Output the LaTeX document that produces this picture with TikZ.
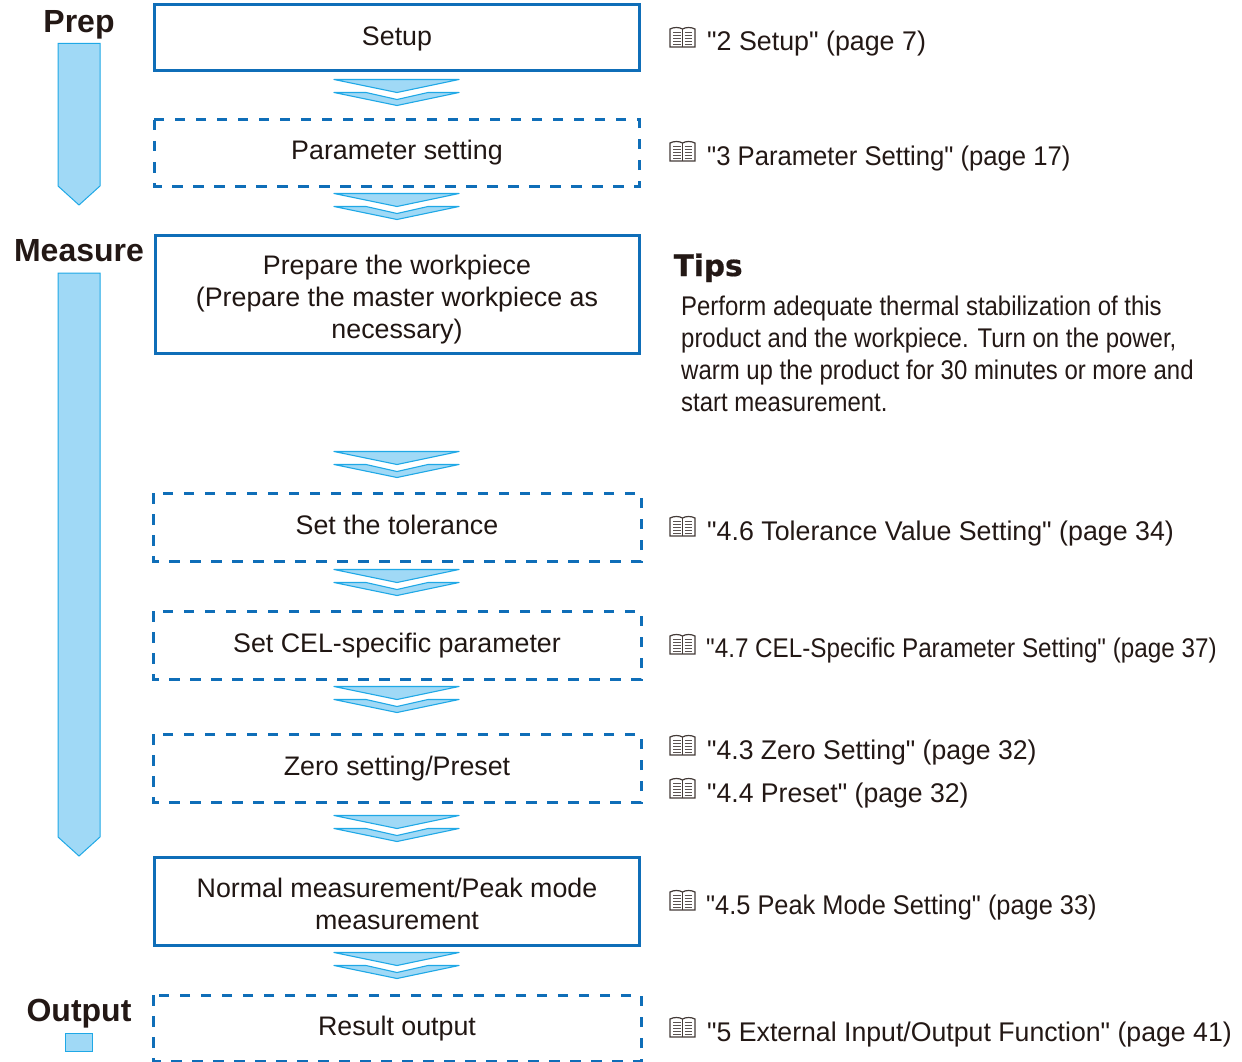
\documentclass[tikz,border=0pt]{standalone}
\usepackage{fontspec}
\setmainfont{Liberation Sans}[Ligatures=TeXOff]
\newfontfamily\tipsfont{DejaVu Sans}[FakeBold=0.6]
\definecolor{boxblue}{HTML}{0F6EB8}
\definecolor{chevfill}{HTML}{A0D9F6}
\definecolor{chevline}{HTML}{1FA8E6}
\definecolor{ink}{HTML}{231815}
\newcommand{\chev}[1]{%
  \begin{scope}[shift={(397,#1+0.5)}]
    \draw[chevstyle] (-63,0) -- (62,0) -- (0,13) -- cycle;
    \draw[chevstyle] (-63,13) -- (-31,13) -- (0,20) -- (31,13) -- (62,13) -- (0,26) -- cycle;
  \end{scope}}
\newcommand{\bookicon}[2]{%
  \begin{scope}[shift={(#1,#2)}]
    \fill[white,draw=ink!85,line width=1.2pt] (0,2) .. controls (4,0) and (9,0) .. (12.5,2) .. controls (16,0) and (21,0) .. (25,2) -- (25,20) -- (0,20) -- cycle;
    \draw[ink!85,line width=1pt] (12.5,2) -- (12.5,20);
    \foreach \yy in {5,8,11,14,17} {
      \draw[ink!75,line width=0.8pt] (3,\yy) -- (10.5,\yy);
      \draw[ink!75,line width=0.8pt] (14.5,\yy) -- (22,\yy);
    }
  \end{scope}}
\newcommand{\sx}[2]{\scalebox{#1}[1]{#2}}
\tikzset{
  x=1pt,y=-1pt,
  chevstyle/.style={draw=chevline,fill=chevfill,line width=1.1pt,line join=round},
  phasebar/.style={draw=chevline,fill=chevfill,line width=1pt},
  solidbox/.style={draw=boxblue,line width=3pt,fill=white},
  dashbox/.style={draw=boxblue,line width=3pt,dash pattern=on 10.5pt off 10.5pt},
  steptext/.style={font=\fontsize{26.8}{32}\selectfont,align=center,text=ink!90!black,inner sep=0pt},
  phase/.style={font=\fontsize{32}{36}\selectfont\bfseries,text=ink,anchor=base,inner sep=0pt},
  ref/.style={font=\fontsize{27}{32}\selectfont,text=ink,anchor=base west,inner sep=0pt},
}
\begin{document}
\begin{tikzpicture}
\useasboundingbox (0,0) rectangle (1242,1062);
% boxes
\draw[solidbox] (154,5) rectangle (639,71);
\draw[dashbox] (154,120) rectangle (639,186);
\draw[solidbox] (155,235) rectangle (639,353);
\draw[dashbox] (153,493) rectangle (641,561);
\draw[dashbox] (153,611) rectangle (641,679);
\draw[dashbox] (153,734) rectangle (641,802);
\draw[solidbox] (154,857) rectangle (639,945);
\draw[dashbox] (153,995) rectangle (641,1061);
% box text
\node[steptext,anchor=base] (t1) at (397,46) {Setup};
\node[steptext,anchor=base] (t2) at (397,160) {Parameter setting};
\node[steptext,anchor=center] (t3) at (397,300) {Prepare the workpiece\\(Prepare the master workpiece as\\necessary)};
\node[steptext,anchor=base] (t4) at (397,534) {Set the tolerance};
\node[steptext,anchor=base] (t5) at (397,652) {Set CEL-specific parameter};
\node[steptext,anchor=base] (t6) at (397,775) {Zero setting/Preset};
\node[steptext,anchor=center] (t7) at (397,904) {Normal measurement/Peak mode\\measurement};
\node[steptext,anchor=base] (t8) at (397,1035) {Result output};
% chevrons
\chev{79}\chev{193}\chev{451}\chev{569}\chev{686}\chev{815}\chev{952}
% phases
\node[phase] (p1) at (79,33) {Prep};
\node[phase] (p2) at (79,261) {Measure};
\node[phase] (p3) at (79,1021) {Output};
\draw[phasebar] (58,43.5) -- (100,43.5) -- (100,186) -- (79,205) -- (58,186) -- cycle;
\draw[phasebar] (58,273) -- (100,273) -- (100,837) -- (79,856) -- (58,837) -- cycle;
\draw[phasebar] (65,1033.5) rectangle (92.5,1051);
% refs
\bookicon{670}{27}\node[ref] (r1) at (707,51) {\sx{0.993}{"2 Setup" (page 7)}};
\bookicon{670}{141}\node[ref] (r2) at (707,165) {\sx{0.95}{"3 Parameter Setting" (page 17)}};
\bookicon{670}{516}\node[ref] (r3) at (707,540) {\sx{0.992}{"4.6 Tolerance Value Setting" (page 34)}};
\bookicon{670}{634}\node[ref] (r4) at (706,657) {\sx{0.898}{"4.7 CEL-Specific Parameter Setting" (page 37)}};
\bookicon{670}{735}\node[ref] (r5) at (707,759) {\sx{0.985}{"4.3 Zero Setting" (page 32)}};
\bookicon{670}{778}\node[ref] (r6) at (707,802) {\sx{0.985}{"4.4 Preset" (page 32)}};
\bookicon{670}{890}\node[ref] (r7) at (706,914) {\sx{0.94}{"4.5 Peak Mode Setting" (page 33)}};
\bookicon{670}{1017}\node[ref] (r8) at (707,1041) {\sx{0.988}{"5 External Input/Output Function" (page 41)}};
% tips
\node[anchor=base west,inner sep=0pt,text=ink,font=\fontsize{29.5}{36}\selectfont\tipsfont\bfseries] (tips) at (673.5,276) {Tips};
\node[anchor=north west,inner sep=0pt,text=ink,align=left,font=\fontsize{27}{32}\selectfont] (tipsbody) at (681,296) {\sx{0.887}{Perform adequate thermal stabilization of this}\\\sx{0.887}{product and the workpiece. Turn on the power,}\\\sx{0.887}{warm up the product for 30 minutes or more and}\\\sx{0.887}{start measurement.}};
\end{tikzpicture}
\end{document}
